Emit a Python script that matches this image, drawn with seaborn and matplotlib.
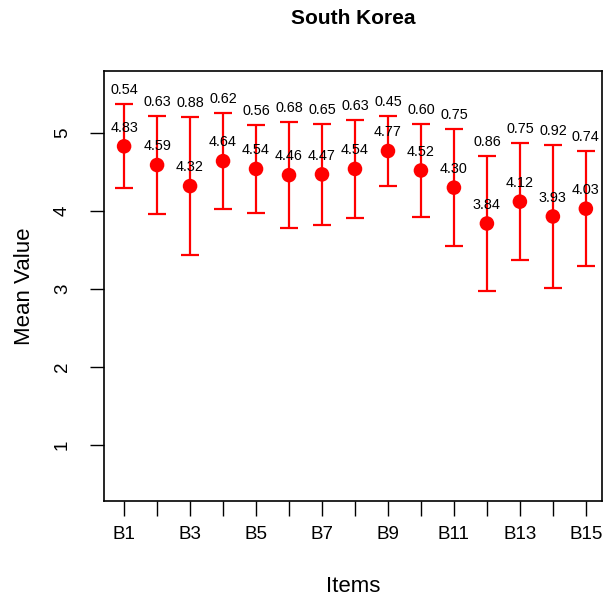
import matplotlib
matplotlib.use("Agg")
import matplotlib.pyplot as plt
import seaborn as sns
import numpy as np
import pandas as pd

items = ["B1", "B2", "B3", "B4", "B5", "B6", "B7", "B8", "B9", "B10",
         "B11", "B12", "B13", "B14", "B15"]
means = [4.83, 4.59, 4.32, 4.64, 4.54, 4.46, 4.47, 4.54, 4.77, 4.52,
         4.30, 3.84, 4.12, 3.93, 4.03]
sds = [0.54, 0.63, 0.88, 0.62, 0.56, 0.68, 0.65, 0.63, 0.45, 0.60,
       0.75, 0.86, 0.75, 0.92, 0.74]
y_ticks = [1, 2, 3, 4, 5]
title = "South Korea"

sns.set_style("ticks")
plt.rcParams['font.family'] = ['Liberation Sans', 'DejaVu Sans']
plt.rcParams.update({"text.color": "black", "axes.labelcolor": "black",
                     "xtick.color": "black", "ytick.color": "black",
                     "axes.edgecolor": "black"})

df = pd.DataFrame({"pos": np.arange(1, len(items) + 1), "item": items,
                   "mean": means, "sd": sds})

W, H = 611, 603
fig = plt.figure(figsize=(W / 100, H / 100), dpi=100)
left, right, top, bottom = 104.3, 601.7, 70.7, 501
ax = fig.add_axes([left / W, (H - bottom) / H, (right - left) / W, (bottom - top) / H])

ax.errorbar(df["pos"], df["mean"], yerr=df["sd"], fmt="none", ecolor="#FF0000",
            elinewidth=1.6, capsize=6.2, capthick=1.6, zorder=2)
sns.scatterplot(data=df, x="pos", y="mean", color="#FF0000", s=110,
                edgecolor="none", linewidth=0, ax=ax, zorder=3, legend=False)

for p, m, s in zip(df["pos"], df["mean"], df["sd"]):
    ax.annotate(f"{m:.2f}", (p, m), xytext=(0, 13.5), textcoords="offset points",
                ha="center", va="center", fontsize=10.4, color="black")
    ax.annotate(f"{s:.2f}", (p, m + s), xytext=(0, 10.2), textcoords="offset points",
                ha="center", va="center", fontsize=10.4, color="black")

ax.set_xlim(0.40, 15.48)
ax.set_ylim(0.28, 5.80)
ax.set_xticks(df["pos"])
ax.set_xticklabels([lab if i % 2 == 0 else "" for i, lab in enumerate(items)])
ax.set_yticks(y_ticks)
ax.set_yticklabels([str(t) for t in y_ticks], rotation=90, va="center")

for sp in ax.spines.values():
    sp.set_visible(True)
    sp.set_linewidth(1.2)
    sp.set_color("black")

ax.tick_params(axis="x", length=11, width=1.0, labelsize=13.5, pad=7, color="black",
               labelcolor="black")
ax.tick_params(axis="y", length=10, width=1.0, labelsize=13.5, pad=14, color="black",
               labelcolor="black")

ax.set_xlabel("Items", fontsize=16, va="center", color="black")
ax.xaxis.set_label_coords(0.5, -(587 - bottom) / (bottom - top))
ax.set_ylabel("Mean Value", fontsize=16, va="center", color="black")
ax.yaxis.set_label_coords(-(left - 25) / (right - left), 0.5)

fig.text(353 / W, 1 - 18 / H, title, ha="center", va="center",
         fontsize=15, fontweight="bold", color="black")

fig.savefig("out.png", dpi=100)
